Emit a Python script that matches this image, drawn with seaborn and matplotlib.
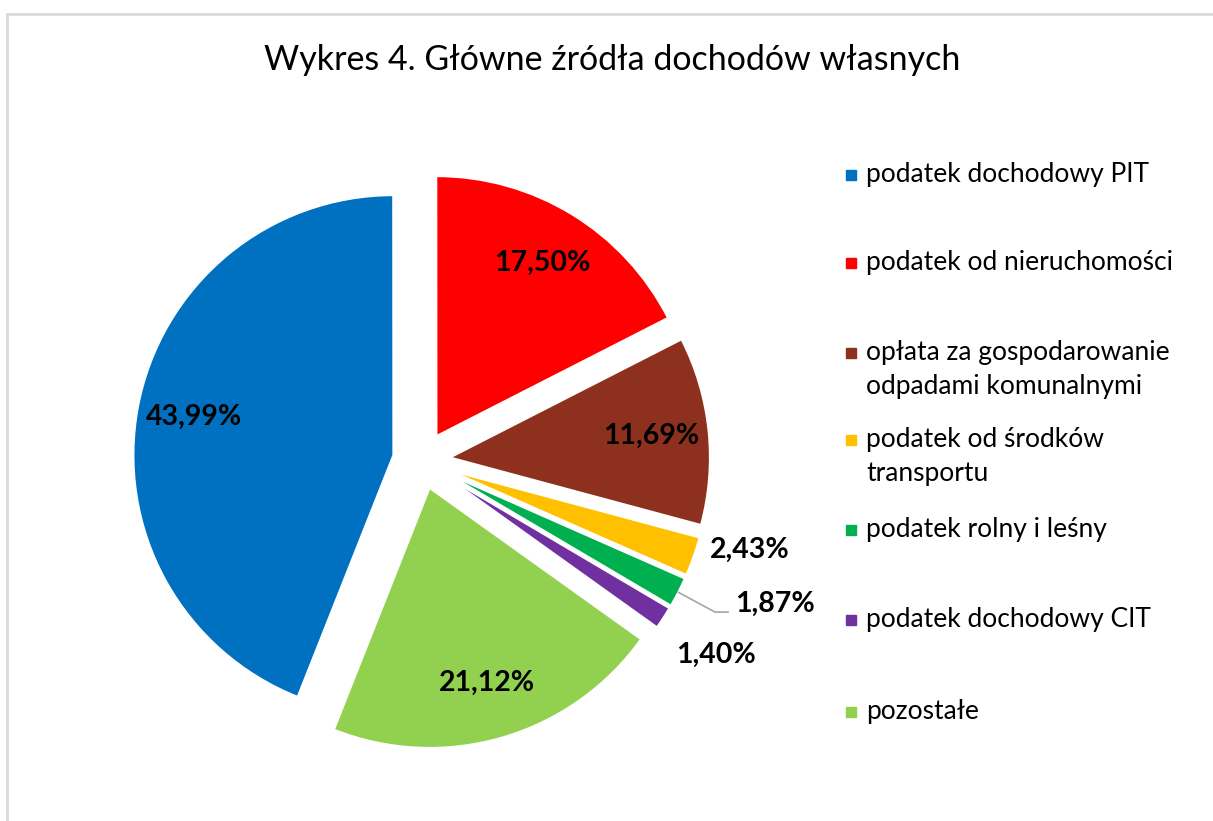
import numpy as np
import matplotlib.pyplot as plt
import seaborn as sns
from matplotlib.patches import Rectangle
from matplotlib.lines import Line2D

# data
categories = ['podatek dochodowy PIT', 'podatek od nieruchomości',
              'opłata za gospodarowanie\nodpadami komunalnymi',
              'podatek od środków\ntransportu', 'podatek rolny i leśny',
              'podatek dochodowy CIT', 'pozostałe']
shares = [43.99, 17.50, 11.69, 2.43, 1.87, 1.40, 21.12]
colors = ['#0070C0', '#FF0000', '#8E301E', '#FFC000', '#00B050', '#7030A0', '#92D050']

sns.set_theme(style='white')
plt.rcParams['font.family'] = ['Lato', 'DejaVu Sans']

W, H = 1213, 821
fig = plt.figure(figsize=(W / 100, H / 100), dpi=100)

# pie axes: center at (421.5, 460.5) px, radius 260 px
cx, cy, R, a = 421.5, 460.5, 260, 1.35
half = a * R
ax = fig.add_axes([(cx - half) / W, (H - cy - half) / H, 2 * half / W, 2 * half / H])

start = 90 - 201.6
wedges, texts, autotexts = ax.pie(
    shares, colors=colors, startangle=start, counterclock=False,
    explode=[0.11] * len(shares), radius=1,
    autopct='%.2f', pctdistance=0.78,
    wedgeprops=dict(edgecolor='white', linewidth=1.5),
    textprops=dict(fontsize=20.5, fontweight='bold', color='black'))
ax.set_xlim(-a, a)
ax.set_ylim(-a, a)
ax.set_aspect('equal')
ax.axis('off')

# labels with comma decimals
for t, v in zip(autotexts, shares):
    t.set_text(f'{v:.2f}%'.replace('.', ','))

# small slices: labels outside
outside = {3: (1.262, -0.344), 4: (1.36, -0.552), 5: (1.133, -0.748)}
for i, (x, y) in outside.items():
    autotexts[i].set_position((x, y))
    autotexts[i].set_ha('center')

# leader line for 1,87%
w = wedges[4]
mid = np.deg2rad((w.theta1 + w.theta2) / 2)
x0 = w.center[0] + np.cos(mid)
y0 = w.center[1] + np.sin(mid)
ax.add_line(Line2D([x0, 1.129, 1.18], [y0, -0.583, -0.583], color='#A6A6A6', lw=1.2))

# title
fig.text(612 / W, 1 - 60 / H, 'Wykres 4. Główne źródła dochodów własnych',
         ha='center', va='center', fontsize=24.5, color='black')

# legend
leg_y = [175, 263, 353, 440, 530, 620, 712]
for lab, col, y in zip(categories, colors, leg_y):
    fig.patches.append(Rectangle((846 / W, 1 - (y + 5) / H), 10 / W, 10 / H,
                                 transform=fig.transFigure, color=col))
    fig.text(866 / W, 1 - (y - 13) / H, lab, ha='left', va='top',
             fontsize=19, color='black', linespacing=1.45)

# chart border (top and left)
fig.add_artist(Line2D([7 / W, 1], [1 - 14 / H, 1 - 14 / H], color='#D9D9D9', lw=2,
                      transform=fig.transFigure))
fig.add_artist(Line2D([7 / W, 7 / W], [0, 1 - 14 / H], color='#D9D9D9', lw=2,
                      transform=fig.transFigure))

fig.savefig('out.png', dpi=100)
